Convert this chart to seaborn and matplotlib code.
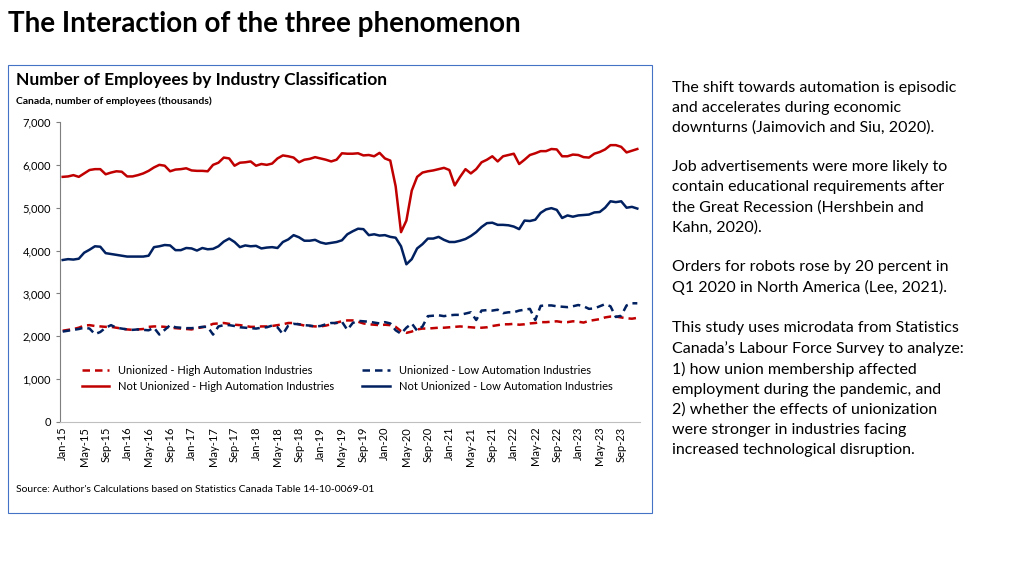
import matplotlib
matplotlib.use("Agg")
import matplotlib.pyplot as plt
import seaborn as sns
import pandas as pd
from matplotlib.patches import Rectangle

months = ["Jan","Feb","Mar","Apr","May","Jun","Jul","Aug","Sep","Oct","Nov","Dec"]
dates = [f"{m}-{y:02d}" for y in range(15, 24) for m in months]

not_union_high = [
5720,5730,5760,5720,5800,5880,5900,5900,5780,5820,5850,5840,
5730,5730,5760,5800,5860,5940,6000,5980,5850,5890,5900,5920,
5870,5860,5860,5850,6000,6050,6170,6150,5980,6050,6060,6080,
5980,6020,6000,6030,6150,6220,6200,6170,6060,6120,6140,6180,
6150,6120,6080,6120,6270,6260,6260,6270,6220,6230,6200,6280,
6150,6100,5500,4430,4700,5400,5720,5820,5850,5870,5900,5930,
5880,5520,5720,5900,5800,5900,6060,6120,6200,6080,6200,6230,
6260,6020,6120,6230,6270,6320,6320,6370,6360,6200,6200,6240,
6230,6180,6170,6260,6300,6360,6460,6460,6420,6290,6330,6370]
not_union_low = [
3780,3800,3790,3810,3950,4020,4100,4090,3940,3920,3900,3880,
3860,3860,3860,3860,3880,4080,4100,4130,4120,4010,4010,4060,
4050,4000,4060,4030,4040,4100,4210,4280,4200,4080,4120,4100,
4110,4050,4070,4080,4060,4200,4260,4360,4310,4230,4230,4250,
4190,4160,4180,4200,4240,4380,4450,4510,4500,4360,4380,4350,
4360,4320,4300,4100,3680,3800,4050,4150,4280,4280,4320,4250,
4200,4200,4230,4270,4340,4430,4550,4640,4650,4600,4600,4590,
4560,4500,4700,4690,4720,4880,4960,4990,4950,4760,4820,4790,
4820,4830,4840,4890,4900,5000,5150,5130,5150,5000,5020,4980]
union_high = [
2130,2150,2170,2200,2250,2260,2240,2230,2220,2220,2200,2180,
2160,2150,2160,2170,2220,2230,2230,2220,2200,2190,2180,2170,
2160,2190,2210,2240,2290,2300,2310,2290,2270,2260,2240,2220,
2220,2230,2230,2240,2260,2280,2310,2310,2280,2250,2240,2230,
2230,2250,2280,2320,2350,2370,2370,2340,2300,2280,2270,2260,
2270,2260,2220,2120,2080,2110,2160,2180,2180,2190,2200,2200,
2210,2220,2230,2220,2210,2200,2200,2210,2240,2260,2280,2280,
2290,2270,2280,2300,2310,2330,2330,2340,2350,2330,2330,2350,
2340,2320,2360,2380,2400,2440,2460,2460,2440,2420,2410,2430]
union_low = [
2110,2130,2150,2170,2200,2180,2050,2100,2200,2260,2200,2180,
2160,2150,2160,2150,2140,2200,2040,2150,2260,2210,2200,2190,
2190,2200,2220,2220,2040,2230,2260,2260,2240,2210,2200,2190,
2180,2200,2210,2250,2210,2050,2250,2290,2280,2260,2250,2230,
2240,2280,2310,2310,2340,2150,2310,2360,2350,2340,2320,2300,
2330,2300,2140,2060,2200,2300,2130,2230,2470,2480,2490,2470,
2490,2500,2500,2530,2560,2380,2600,2610,2600,2620,2540,2560,
2560,2600,2620,2640,2380,2710,2720,2720,2700,2690,2680,2700,
2730,2700,2640,2650,2700,2750,2700,2450,2480,2720,2770,2770]

FONT = "Lato"
RED, NAVY = "#C00000", "#002060"

fig = plt.figure(figsize=(10.24, 5.76), dpi=100)
fig.patch.set_facecolor("white")
fig.add_artist(Rectangle((8/1024, 1-513/576), 644/1024, 448/576, transform=fig.transFigure,
                         fill=False, edgecolor="#4472C4", linewidth=0.8))
fig.text(8/1024, 1-24/576, "The Interaction of the three phenomenon", fontsize=20, weight="bold",
         family=FONT, va="center")
fig.text(16/1024, 1-80/576, "Number of Employees by Industry Classification", fontsize=12.5,
         weight="bold", family=FONT, va="center")
fig.text(16/1024, 1-101/576, "Canada, number of employees (thousands)", fontsize=7.5,
         weight="bold", family=FONT, va="center")
fig.text(16/1024, 1-489/576, "Source: Author's Calculations based on Statistics Canada Table 14-10-0069-01",
         fontsize=7.5, family=FONT, va="center")

right = ("The shift towards automation is episodic\nand accelerates during economic\n"
         "downturns (Jaimovich and Siu, 2020).\n\n"
         "Job advertisements were more likely to\ncontain educational requirements after\n"
         "the Great Recession (Hershbein and\nKahn, 2020).\n\n"
         "Orders for robots rose by 20 percent in\nQ1 2020 in North America (Lee, 2021).\n\n"
         "This study uses microdata from Statistics\nCanada\u2019s Labour Force Survey to analyze:\n"
         "1) how union membership affected\nemployment during the pandemic, and\n"
         "2) whether the effects of unionization\nwere stronger in industries facing\n"
         "increased technological disruption.")
fig.text(672/1024, 1-81/576, right, fontsize=11.5, family=FONT, va="top", linespacing=1.52)

ax = fig.add_axes([60/1024, 1-422/576, 580/1024, 300/576])
x = list(range(len(dates)))
df = pd.DataFrame({"x": x, "uh": union_high, "ul": union_low, "nuh": not_union_high, "nul": not_union_low})
sns.lineplot(data=df, x="x", y="uh", ax=ax, color=RED, lw=1.8, ls=(0, (3, 2)),
             label="Unionized - High Automation Industries")
sns.lineplot(data=df, x="x", y="nuh", ax=ax, color=RED, lw=1.8,
             label="Not Unionized - High Automation Industries")
sns.lineplot(data=df, x="x", y="ul", ax=ax, color=NAVY, lw=1.8, ls=(0, (3, 2)),
             label="Unionized - Low Automation Industries")
sns.lineplot(data=df, x="x", y="nul", ax=ax, color=NAVY, lw=1.8,
             label="Not Unionized - Low Automation Industries")
ax.set_xlim(-0.5, len(dates) - 0.5)
ax.set_ylim(0, 7000)
ax.set_yticks(range(0, 7001, 1000))
ax.set_yticklabels([f"{v:,}" for v in range(0, 7001, 1000)], fontsize=8, family=FONT)
ax.set_xticks(x[::4])
ax.set_xticklabels(dates[::4], rotation=90, fontsize=8, family=FONT)
ax.set_xlabel(""); ax.set_ylabel("")
for s in ["top", "right"]:
    ax.spines[s].set_visible(False)
ax.spines["left"].set_color("#7F7F7F"); ax.spines["bottom"].set_color("#BFBFBF")
ax.tick_params(axis="x", length=0)
ax.tick_params(axis="y", length=3, color="#7F7F7F")
leg = ax.legend(ncol=2, frameon=False, loc="center left", bbox_to_anchor=(0.02, 0.145),
                prop={"family": FONT, "size": 8}, columnspacing=2.5, handlelength=2.5)
fig.savefig("out.png", dpi=100)
